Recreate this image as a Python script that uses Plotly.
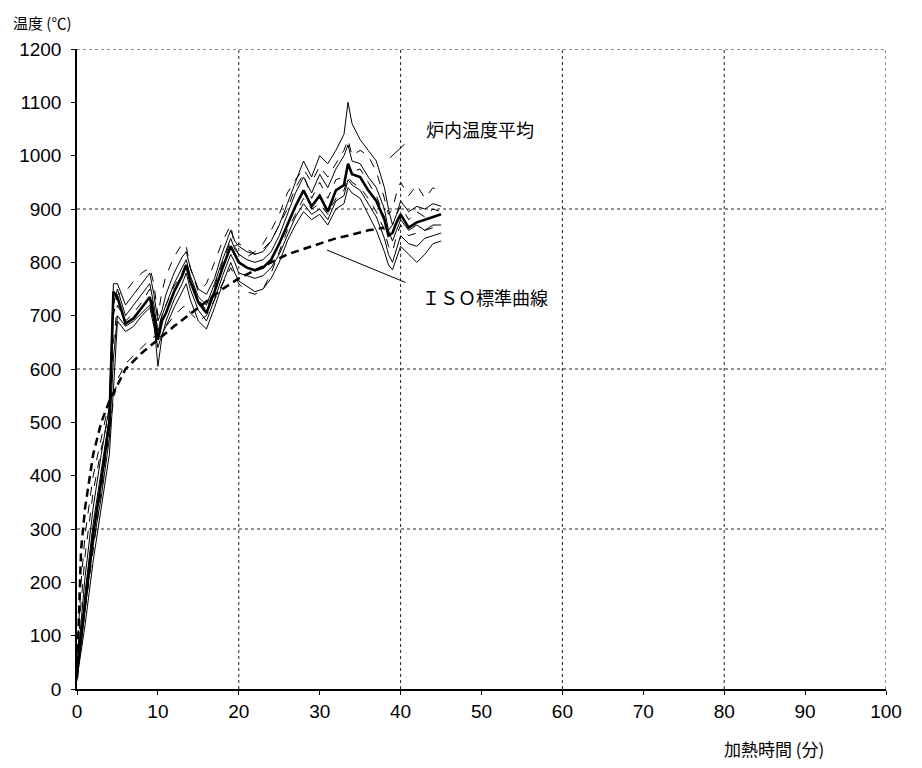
import plotly.graph_objects as go

# time axis (minutes)
time_min = [0, 0.5, 1, 2, 3, 4, 4.5, 5, 6, 7, 8, 9, 9.5, 10, 10.5, 11, 12, 13, 13.5, 14,
            15, 16, 17, 18, 19, 19.5, 20, 21, 22, 23, 24, 25, 26, 27, 28, 29, 30, 31, 32, 33,
            33.5, 34, 35, 36, 37, 38, 38.5, 39, 39.5, 40, 41, 42, 43, 44, 45]

# individual thermocouples (thin lines)
tc1 = [40, 130, 210, 340, 440, 530, 760, 760, 720, 740, 760, 780, 740, 690, 710, 740, 780, 810, 820, 790,
       750, 740, 770, 820, 860, 840, 830, 820, 815, 820, 840, 870, 910, 950, 990, 960, 1000, 985, 1010, 1040,
       1100, 1060, 1030, 1010, 990, 940, 900, 870, 890, 915, 895, 905, 900, 910, 905]
tc2 = [60, 200, 290, 400, 470, 540, 700, 740, 745, 765, 780, 790, 760, 700, 745, 775, 810, 835, 830, 790,
       745, 760, 800, 840, 870, 830, 815, 810, 820, 835, 860, 890, 930, 955, 975, 950, 980, 960, 985, 1010,
       1030, 1000, 1010, 1000, 970, 920, 890, 900, 930, 950, 925, 945, 920, 940, 930]
tc3 = [35, 110, 180, 310, 410, 510, 720, 750, 700, 720, 740, 760, 720, 670, 700, 720, 760, 790, 805, 775,
       735, 720, 760, 805, 845, 825, 815, 805, 800, 805, 820, 850, 890, 930, 960, 930, 965, 940, 975, 1000,
       1020, 990, 985, 960, 940, 900, 860, 840, 860, 880, 860, 870, 860, 870, 870]
tc4 = [20, 70, 120, 240, 340, 440, 560, 690, 670, 680, 700, 715, 680, 640, 665, 680, 715, 745, 760, 730,
       690, 675, 715, 760, 800, 780, 765, 755, 745, 750, 770, 800, 840, 870, 895, 880, 890, 870, 900, 910,
       940, 930, 920, 890, 860, 820, 795, 786, 810, 830, 815, 800, 815, 835, 840]
tc5 = [15, 80, 150, 260, 370, 480, 540, 580, 610, 625, 640, 655, 660, 665, 670, 680, 700, 715, 720, 705,
       690, 700, 730, 760, 790, 775, 760, 745, 740, 750, 780, 820, 860, 890, 920, 900, 910, 890, 920, 935,
       960, 950, 940, 920, 895, 860, 830, 820, 850, 870, 850, 855, 860, 865, 870]
tc6 = [25, 90, 150, 270, 360, 470, 620, 700, 680, 690, 705, 720, 690, 605, 660, 690, 730, 760, 780, 750,
       710, 690, 730, 775, 815, 800, 780, 775, 770, 775, 790, 815, 850, 885, 910, 890, 900, 880, 915, 925,
       955, 945, 935, 910, 885, 845, 815, 800, 825, 850, 835, 830, 845, 850, 855]
tc7 = [45, 160, 250, 370, 450, 520, 650, 720, 690, 705, 725, 750, 710, 675, 700, 720, 755, 780, 800, 770,
       730, 710, 755, 800, 840, 830, 835, 825, 815, 825, 840, 870, 900, 940, 965, 920, 950, 920, 955, 960,
       980, 970, 975, 950, 925, 885, 860, 870, 890, 905, 880, 895, 885, 900, 895]

# furnace average (thick solid)
furnace_avg = [30, 95, 160, 290, 390, 500, 745, 735, 685, 695, 715, 735, 700, 655, 690, 705, 745, 775, 795, 765,
               725, 705, 745, 790, 830, 815, 800, 790, 785, 790, 805, 835, 870, 905, 935, 905, 925, 895, 935, 945,
               985, 965, 960, 935, 915, 880, 850, 855, 875, 890, 865, 875, 880, 885, 890]

# ISO standard curve (thick dashed)
iso_time = [0, 0.5, 1, 2, 3, 4, 5, 6, 8, 10, 12, 15, 18, 20, 22, 24, 26, 28, 30, 32, 34, 36, 38]
iso_temp = [20, 260, 340, 440, 500, 540, 570, 600, 630, 655, 680, 715, 750, 770, 785, 800, 815, 825, 835, 845, 852, 860, 865]

x_ticks = [0, 10, 20, 30, 40, 50, 60, 70, 80, 90, 100]
y_ticks = [0, 100, 200, 300, 400, 500, 600, 700, 800, 900, 1000, 1100, 1200]
grid_x = [20, 40, 60, 80, 100]
grid_y = [300, 600, 900, 1200]

thin_series = [(tc1, "solid"), (tc2, "dash"), (tc3, "solid"), (tc4, "solid"),
               (tc5, "dash"), (tc6, "solid"), (tc7, "dash")]

fig = go.Figure()
for vals, dash in thin_series:
    fig.add_trace(go.Scatter(x=time_min, y=vals, mode="lines",
                             line=dict(color="black", width=1, dash=dash),
                             showlegend=False, hoverinfo="skip"))
fig.add_trace(go.Scatter(x=iso_time, y=iso_temp, mode="lines",
                         line=dict(color="black", width=2.5, dash="8px,5px"),
                         showlegend=False))
fig.add_trace(go.Scatter(x=time_min, y=furnace_avg, mode="lines",
                         line=dict(color="black", width=2.6),
                         showlegend=False))

shapes = []
for gx in grid_x:
    shapes.append(dict(type="line", xref="x", yref="paper", x0=gx, x1=gx, y0=0, y1=1,
                       line=dict(color="#222", width=1, dash="dot"), layer="below"))
for gy in grid_y:
    shapes.append(dict(type="line", xref="paper", yref="y", x0=0, x1=1, y0=gy, y1=gy,
                       line=dict(color="#222", width=1, dash="dot"), layer="below"))

tick_font = dict(family="Liberation Sans Narrow, Arial Narrow, Liberation Sans, Arial, sans-serif",
                 size=19, color="black")
cjk = "Noto Sans CJK JP, Noto Sans CJK SC, sans-serif"

fig.update_layout(
    width=906, height=752,
    margin=dict(l=69, r=28, t=41, b=71),
    paper_bgcolor="white", plot_bgcolor="white",
    shapes=shapes,
    xaxis=dict(range=[0, 100], tickvals=x_ticks, showgrid=False, zeroline=False,
               showline=True, linecolor="black", linewidth=1.5,
               ticks="outside", ticklen=4, tickcolor="black", tickfont=tick_font),
    yaxis=dict(range=[0, 1200], tickvals=y_ticks, showgrid=False, zeroline=False,
               showline=True, linecolor="black", linewidth=1.5,
               ticks="outside", ticklen=4, tickcolor="black", tickfont=tick_font,
               ticklabelstandoff=6),
    annotations=[
        dict(text="温度 (℃)", xref="paper", yref="paper", x=-0.082, y=1.022,
             xanchor="left", yanchor="bottom", showarrow=False,
             font=dict(family=cjk, size=15, color="black")),
        dict(text="加熱時間 (分)", xref="paper", yref="paper", x=0.797, y=-0.07,
             xanchor="left", yanchor="top", showarrow=False,
             font=dict(family=cjk, size=17, color="black")),
        dict(text="", x=38.7, y=996, xref="x", yref="y", showarrow=True,
             arrowhead=0, arrowwidth=1, arrowcolor="black", ax=16, ay=-15),
        dict(text="炉内温度平均", x=49.8, y=1050, xref="x", yref="y", showarrow=False,
             font=dict(family=cjk, size=18, color="black")),
        dict(text="", x=30.9, y=823, xref="x", yref="y", showarrow=True,
             arrowhead=0, arrowwidth=1, arrowcolor="black", ax=80, ay=33),
        dict(text="ＩＳＯ標準曲線", x=50.4, y=735, xref="x", yref="y", showarrow=False,
             font=dict(family=cjk, size=18, color="black")),
    ],
)

fig.write_html("out.html")
